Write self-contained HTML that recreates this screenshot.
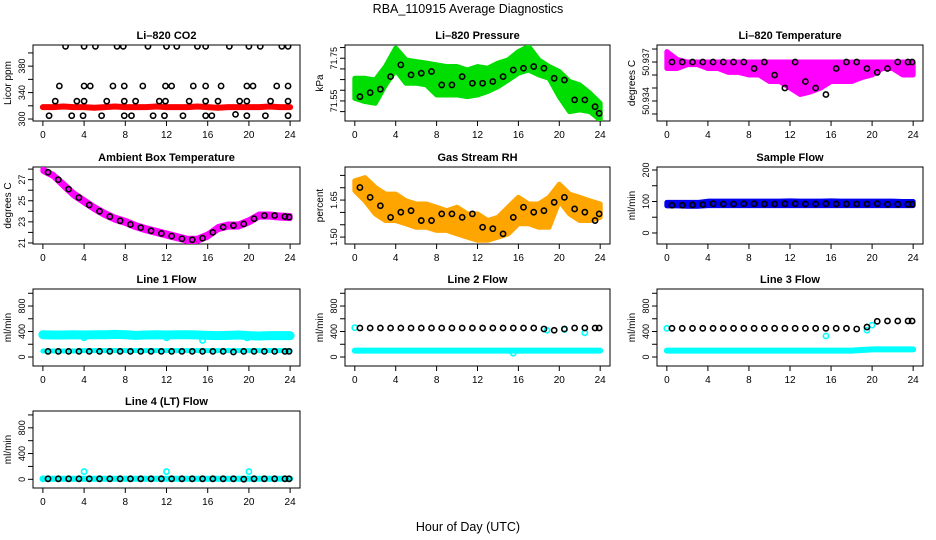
<!DOCTYPE html>
<html><head><meta charset="utf-8"><title>RBA_110915 Average Diagnostics</title>
<style>
html,body{margin:0;padding:0;background:#fff;}
svg{display:block;font-family:"Liberation Sans",sans-serif;}
</style></head>
<body>
<svg id="chart" width="936" height="540" viewBox="0 0 936 540" xmlns="http://www.w3.org/2000/svg">
<text x="468" y="13" text-anchor="middle" font-size="12.5">RBA_110915  Average Diagnostics</text>
<text x="468" y="531" text-anchor="middle" font-size="12.5">Hour of Day (UTC)</text>
</svg>
<script>
// ---------- data ----------
const xTicks = [0,4,8,12,16,20,24];
const co2Red = [318,318,319,318,318,317,318,319,318,318,318,319,318,318,318,319,318,317,318,318,318,318,319,318,318];
const co2BlackX = [2.2,4,5.1,7.2,7.8,10.2,12,13,15,15.8,18.1,20,21.1,23.2,23.8, 1.6,4,4.6,6.8,7.9,9.7,11.9,12.5,14.6,15.8,17.3,19.8,20.4,22.7,23.8, 1.2,3.3,4,6.2,7.9,9,11.3,11.9,14.2,15.8,17,19.1,19.8,22.1,23.8, 0.6,2.8,3.9,5.7,7.9,8.6,10.7,11.8,13.6,15.8,16.4,18.7,19.8,21.6,23.8];
const co2BlackY = [410,410,410,410,410,410,410,410,410,410,410,410,410,410,410, 350,350,350,350,350,350,350,350,350,350,350,350,350,350,350, 327,327,327,327,327,327,327,327,327,327,327,327,327,327,327, 305,305,305,305,305,305,305,305,305,305,305,307,305,305,305];

const presHi = [71.656,71.656,71.648,71.711,71.797,71.742,71.734,71.727,71.719,71.711,71.711,71.695,71.711,71.703,71.727,71.742,71.781,71.805,71.742,71.711,71.688,71.641,71.625,71.586,71.539];
const presLo = [71.562,71.547,71.539,71.625,71.695,71.633,71.633,71.625,71.578,71.578,71.578,71.570,71.578,71.594,71.617,71.648,71.680,71.695,71.672,71.656,71.570,71.500,71.508,71.500,71.461];
const presBlack = [71.570,71.589,71.605,71.664,71.719,71.672,71.680,71.688,71.625,71.625,71.664,71.633,71.633,71.641,71.664,71.695,71.703,71.711,71.703,71.656,71.648,71.555,71.555,71.523,71.492];

const tempHi = [50.9378,50.9372,50.937,50.937,50.937,50.937,50.937,50.937,50.937,50.937,50.937,50.937,50.937,50.937,50.937,50.937,50.937,50.937,50.937,50.937,50.937,50.937,50.937,50.937,50.937];
const tempLo = [50.9365,50.9365,50.9368,50.9368,50.9365,50.9365,50.9362,50.9362,50.936,50.936,50.9355,50.9355,50.935,50.9345,50.9347,50.935,50.9355,50.9355,50.9355,50.9358,50.936,50.9365,50.9365,50.936,50.936];
const tempBlack = [50.937,50.937,50.937,50.937,50.937,50.937,50.937,50.937,50.9365,50.937,50.936,50.935,50.937,50.9355,50.935,50.9345,50.9365,50.937,50.937,50.9365,50.9362,50.9365,50.937,50.937,50.937];

const ambHi = [28.0,27.5,26.65,25.75,25.1,24.45,23.9,23.45,23.15,22.75,22.45,22.2,21.95,21.7,21.45,21.45,21.85,22.55,22.8,22.8,23.2,23.75,23.75,23.65,23.6];
const ambLo = [27.8,27.3,26.35,25.45,24.8,24.15,23.6,23.15,22.85,22.45,22.15,21.9,21.65,21.4,21.15,21.15,21.55,22.25,22.5,22.5,22.9,23.45,23.45,23.35,23.3];
const ambBlack = [27.7,27.0,26.1,25.3,24.6,24.0,23.5,23.1,22.75,22.45,22.15,21.9,21.65,21.4,21.3,21.45,22.0,22.5,22.65,22.8,23.3,23.6,23.6,23.5,23.45];

const rhHi = [1.728,1.741,1.701,1.674,1.674,1.647,1.634,1.634,1.621,1.607,1.621,1.594,1.594,1.567,1.580,1.621,1.661,1.634,1.634,1.661,1.714,1.674,1.661,1.647,1.634];
const rhLo = [1.688,1.647,1.594,1.567,1.567,1.554,1.540,1.540,1.527,1.527,1.513,1.500,1.487,1.487,1.500,1.513,1.554,1.554,1.540,1.540,1.647,1.594,1.567,1.567,1.580];
const rhBlack = [1.701,1.661,1.627,1.580,1.601,1.607,1.567,1.567,1.594,1.594,1.580,1.594,1.540,1.534,1.513,1.580,1.621,1.601,1.607,1.641,1.661,1.614,1.601,1.567,1.594];

const sfHi = [97,97,97,97,101,101,101,101,101,101,101,101,102,101,101,101,102,101,101,101,101,101,101,100,100];
const sfLo = [86,86,85,85,87,87,87,87,87,87,87,87,87,87,87,87,87,87,87,87,87,87,87,87,87];
const sfBlack = [88,88,89,90,93,92,92,93,93,92,92,93,93,92,92,93,92,92,92,92,93,91,91,91,91];

const l1CyanA = [350,345,345,350,345,350,350,355,350,340,345,350,345,350,350,345,340,335,340,345,335,330,335,335,335];
const l1CyanB = [95,95,95,95,100,100,100,100,100,100,100,100,100,100,100,100,100,100,100,100,100,100,100,100,100];
const l1Black = [88,88,88,88,88,88,88,88,88,88,88,88,88,88,88,88,88,88,80,88,88,88,88,88,88];
const l1OutX = [4,12,15.5,19.8];
const l1OutY = [300,300,260,300];

const l2CyanA = [100,100,100,100,100,100,100,100,100,100,100,100,100,100,100,100,100,100,100,100,100,100,100,100,100];
const l2Black = [455,455,455,455,455,455,455,455,455,455,455,455,455,455,455,455,455,455,440,420,440,455,455,455,455];
const l2OutX = [0,15.5,20.5,22.5,18.8];
const l2OutY = [460,60,430,380,420];

const l3CyanA = [100,100,100,100,100,100,100,100,100,100,100,100,100,100,100,100,100,100,100,110,120,120,120,120,120];
const l3Black = [450,450,450,450,450,450,450,450,450,450,450,450,450,450,450,450,450,450,440,470,560,565,565,565,565];
const l3OutX = [0,15.5,19.5,20];
const l3OutY = [450,330,420,500];

const l4CyanA = [8,8,8,8,8,8,8,8,8,8,8,8,8,8,8,8,8,8,8,8,8,8,8,8,8];
const l4Black = [8,8,8,8,8,8,8,8,8,8,8,8,8,8,8,8,8,8,8,2,8,8,8,8,8];
const l4OutX = [0,4,12,20];
const l4OutY = [8,120,120,120];

// ---------- rendering ----------
const NS = "http://www.w3.org/2000/svg";
const svg = document.getElementById('chart');
const H25 = []; for (let i=0;i<25;i++) H25.push(i);
const BH = []; for (let i=0;i<24;i++) BH.push(i+0.5); BH.push(23.9);

function el(tag, attrs, parent){ const e=document.createElementNS(NS,tag); for(const k in attrs) e.setAttribute(k,attrs[k]); parent.appendChild(e); return e; }

function makePanel(p){
  const g = el('g',{},svg);
  
  
  const xs = v => p.x0 + (v + 0.96) * (p.x1 - p.x0) / 25.92;
  const ys = v => p.y1 - (v - p.dmin) * (p.y1 - p.y0) / (p.dmax - p.dmin);
  const t = el('text',{x:(p.x0+p.x1)/2,y:p.y0-6,'text-anchor':'middle','font-size':'11','font-weight':'bold'},g);
  t.textContent = p.title;
  
  
  const box = el('rect',{x:p.x0,y:p.y0,width:p.x1-p.x0,height:p.y1-p.y0,fill:'none',stroke:'#000','stroke-width':1},g);
  
  
  const xa = el('g',{},g);
  
  
  el('line',{x1:xs(0),x2:xs(24),y1:p.y1,y2:p.y1,stroke:'#000'},xa);
  xTicks.forEach(v=>{
    el('line',{x1:xs(v),x2:xs(v),y1:p.y1,y2:p.y1+5,stroke:'#000'},xa);
    const tl = el('text',{x:xs(v),y:p.y1+17,'text-anchor':'middle','font-size':'10'},xa);
    tl.textContent = v;
    
    
  });
  const ya = el('g',{},g);
  
  
  el('line',{x1:p.x0,x2:p.x0,y1:ys(p.ticks[0]),y2:ys(p.ticks[p.ticks.length-1]),stroke:'#000'},ya);
  p.ticks.forEach(v=>{ el('line',{x1:p.x0-5,x2:p.x0,y1:ys(v),y2:ys(v),stroke:'#000'},ya); });
  p.labVals.forEach((v,i)=>{
    const yy = ys(v), xx = p.x0-8;
    const tl = el('text',{x:xx,y:yy,'text-anchor':'middle','font-size':'9',transform:`rotate(-90 ${xx} ${yy})`},ya);
    tl.textContent = p.labText[i];
    
    
  });
  const yl = el('text',{x:p.x0-22,y:(p.y0+p.y1)/2,'text-anchor':'middle','font-size':'10',transform:`rotate(-90 ${p.x0-22} ${(p.y0+p.y1)/2})`},g);
  yl.textContent = p.ylab;
  
  
  const clip = 'clip-'+p.name;
  const cp = el('clipPath',{id:clip},g);
  el('rect',{x:p.x0,y:p.y0,width:p.x1-p.x0,height:p.y1-p.y0},cp);
  const plot = el('g',{'clip-path':`url(#${clip})`},g);
  return {g:plot,xs,ys};
}

function band(P, hi, lo, color, name){
  let d = 'M'+H25.map(i=>P.xs(i)+','+P.ys(hi[i])).join('L');
  d += 'L'+H25.slice().reverse().map(i=>P.xs(i)+','+P.ys(lo[i])).join('L')+'Z';
  const e = el('path',{d:d,fill:color,stroke:color,'stroke-width':5,'stroke-linejoin':'round'},P.g);
  
  
}
function thick(P, vals, color, w, name){
  const d = 'M'+H25.map(i=>P.xs(i)+','+P.ys(vals[i])).join('L');
  const e = el('path',{d:d,fill:'none',stroke:color,'stroke-width':w,'stroke-linejoin':'round','stroke-linecap':'round'},P.g);
  
  
}
function pts(P, X, Y, color, name, r){
  X.forEach((x,i)=>{
    const c = el('circle',{cx:P.xs(x),cy:P.ys(Y[i]),r:r||2.6,fill:'none',stroke:color,'stroke-width':1.6},P.g);
    
    
  });
}

const C1=[33,300], C2=[345,610], C3=[657,923];
const R1=[45,121], R2=[167,244], R3=[289,366], R4=[411,488];
const flowTicks=[0,200,400,600,800,1000];

let P;
P = makePanel({name:'co2',title:'Li\u2013820 CO2',ylab:'Licor ppm',x0:C1[0],x1:C1[1],y0:R1[0],y1:R1[1],dmin:297,dmax:412,ticks:[300,320,340,360,380,400],labVals:[300,340,380],labText:['300','340','380']});
thick(P, co2Red, '#ff0000', 6, 'co2-red-series');
pts(P, co2BlackX, co2BlackY, '#000', 'co2-black-point');

P = makePanel({name:'pressure',title:'Li\u2013820 Pressure',ylab:'kPa',x0:C2[0],x1:C2[1],y0:R1[0],y1:R1[1],dmin:71.456,dmax:71.812,ticks:[71.50,71.55,71.60,71.65,71.70,71.75,71.80],labVals:[71.55,71.75],labText:['71.55','71.75']});
band(P, presHi, presLo, '#00dd00', 'pressure-green-band');
pts(P, BH, presBlack, '#000', 'pressure-black-point');

P = makePanel({name:'temperature',title:'Li\u2013820 Temperature',ylab:'degrees C',x0:C3[0],x1:C3[1],y0:R1[0],y1:R1[1],dmin:50.93246,dmax:50.93831,ticks:[50.933,50.934,50.935,50.936,50.937,50.938],labVals:[50.934,50.937],labText:['50.934','50.937']});
band(P, tempHi, tempLo, '#ff00ff', 'temperature-magenta-band');
pts(P, BH, tempBlack, '#000', 'temperature-black-point');

P = makePanel({name:'ambient',title:'Ambient Box Temperature',ylab:'degrees C',x0:C1[0],x1:C1[1],y0:R2[0],y1:R2[1],dmin:20.9,dmax:28.2,ticks:[21,22,23,24,25,26,27,28],labVals:[21,23,25,27],labText:['21','23','25','27']});
band(P, ambHi, ambLo, '#ff00ff', 'ambient-magenta-band');
pts(P, BH, ambBlack, '#000', 'ambient-black-point');

P = makePanel({name:'rh',title:'Gas Stream RH',ylab:'percent',x0:C2[0],x1:C2[1],y0:R2[0],y1:R2[1],dmin:1.472,dmax:1.784,ticks:[1.50,1.55,1.60,1.65,1.70,1.75],labVals:[1.50,1.65],labText:['1.50','1.65']});
band(P, rhHi, rhLo, '#ffa500', 'rh-orange-band');
pts(P, BH, rhBlack, '#000', 'rh-black-point');

P = makePanel({name:'sample-flow',title:'Sample Flow',ylab:'ml/min',x0:C3[0],x1:C3[1],y0:R2[0],y1:R2[1],dmin:-35,dmax:209.5,ticks:[0,50,100,150,200],labVals:[0,100,200],labText:['0','100','200']});
band(P, sfHi, sfLo, '#0000ee', 'sample-flow-blue-band');
pts(P, BH, sfBlack, '#000', 'sample-flow-black-point');

P = makePanel({name:'line1',title:'Line 1 Flow',ylab:'ml/min',x0:C1[0],x1:C1[1],y0:R3[0],y1:R3[1],dmin:-141,dmax:1067,ticks:flowTicks,labVals:[0,400,800],labText:['0','400','800']});
thick(P, l1CyanA, '#00ffff', 9, 'line1-cyan-upper');
thick(P, l1CyanB, '#00ffff', 5, 'line1-cyan-lower');
pts(P, l1OutX, l1OutY, '#00ffff', 'line1-cyan-point');
pts(P, BH, l1Black, '#000', 'line1-black-point');

P = makePanel({name:'line2',title:'Line 2 Flow',ylab:'ml/min',x0:C2[0],x1:C2[1],y0:R3[0],y1:R3[1],dmin:-141,dmax:1067,ticks:flowTicks,labVals:[0,400,800],labText:['0','400','800']});
thick(P, l2CyanA, '#00ffff', 6, 'line2-cyan-series');
pts(P, l2OutX, l2OutY, '#00ffff', 'line2-cyan-point');
pts(P, BH, l2Black, '#000', 'line2-black-point');

P = makePanel({name:'line3',title:'Line 3 Flow',ylab:'ml/min',x0:C3[0],x1:C3[1],y0:R3[0],y1:R3[1],dmin:-141,dmax:1067,ticks:flowTicks,labVals:[0,400,800],labText:['0','400','800']});
thick(P, l3CyanA, '#00ffff', 6, 'line3-cyan-series');
pts(P, l3OutX, l3OutY, '#00ffff', 'line3-cyan-point');
pts(P, BH, l3Black, '#000', 'line3-black-point');

P = makePanel({name:'line4',title:'Line 4 (LT) Flow',ylab:'ml/min',x0:C1[0],x1:C1[1],y0:R4[0],y1:R4[1],dmin:-135,dmax:1061,ticks:flowTicks,labVals:[0,400,800],labText:['0','400','800']});
thick(P, l4CyanA, '#00ffff', 6, 'line4-cyan-series');
pts(P, l4OutX, l4OutY, '#00ffff', 'line4-cyan-point');
pts(P, BH, l4Black, '#000', 'line4-black-point');
</script>
</body></html>
